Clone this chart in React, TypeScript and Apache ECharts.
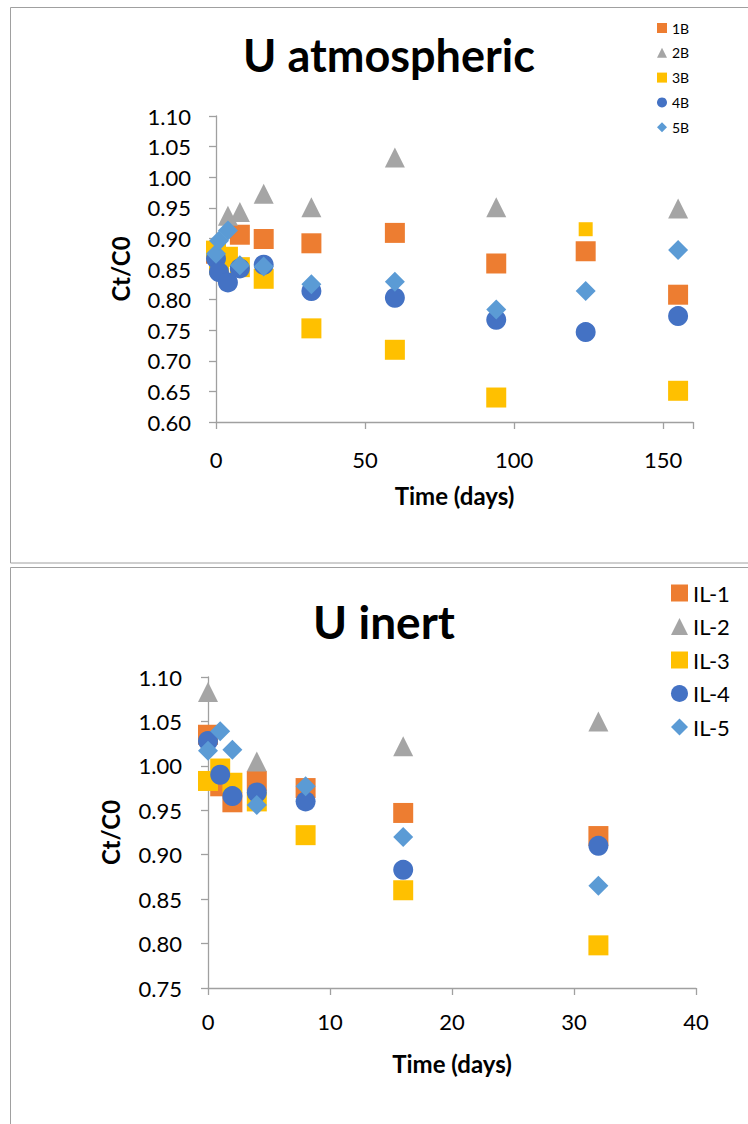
import React, { useEffect, useRef } from "react";
import * as echarts from "echarts";

// ---- U atmospheric: sampling times (days) and Ct/C0 per sample ----
const atmDays = [0, 1, 4, 8, 16, 32, 60, 94, 124, 155];
const atm1B = [0.875, 0.86, null, 0.906, 0.899, 0.892, 0.909, 0.859, 0.879, 0.808];
const atm2B = [null, null, 0.937, 0.943, 0.973, 0.951, 1.032, 0.951, null, 0.949];
const atm3B = [0.88, 0.857, 0.87, 0.853, 0.834, 0.753, 0.718, 0.64, 0.915, 0.651];
const atm4B = [0.867, 0.845, 0.828, 0.851, 0.857, 0.814, 0.803, 0.767, 0.747, 0.773];
const atm5B = [0.875, 0.896, 0.913, 0.856, 0.854, 0.825, 0.829, 0.784, 0.814, 0.881];

// ---- U inert ----
const inertDays = [0, 1, 2, 4, 8, 16, 32];
const inertIL1 = [1.035, 0.977, 0.959, 0.983, 0.975, 0.947, 0.921];
const inertIL2 = [1.083, null, null, 1.005, null, 1.022, 1.05];
const inertIL3 = [0.983, 0.997, 0.981, 0.96, 0.922, 0.86, 0.798];
const inertIL4 = [1.028, 0.99, 0.966, 0.97, 0.96, 0.883, 0.91];
const inertIL5 = [1.017, 1.039, 1.018, 0.956, 0.977, 0.92, 0.865];

const atmNames = ["1B", "2B", "3B", "4B", "5B"];
const inertNames = ["IL-1", "IL-2", "IL-3", "IL-4", "IL-5"];

const atmXTicks = { min: 0, max: 160, interval: 50 };
const atmYTicks = { min: 0.6, max: 1.1, interval: 0.05 };
const inertXTicks = { min: 0, max: 40, interval: 10 };
const inertYTicks = { min: 0.75, max: 1.1, interval: 0.05 };

const COLORS = ["#ED7D31", "#A5A5A5", "#FFC000", "#4472C4", "#5B9BD5"];
const SYMBOLS = ["rect", "triangle", "rect", "circle", "diamond"];
const MARKER = 20;
// the 3B reading at day 124 is plotted with a smaller marker
const SMALL_MARKER_3B_DAY = 124;

const FONT = "Lato";
const AXIS_GRAY = "#A0A0A0";

function points(days: number[], vals: (number | null)[], smallDay?: number) {
  const out: any[] = [];
  days.forEach((d, i) => {
    const v = vals[i];
    if (v == null) return;
    if (smallDay !== undefined && d === smallDay) {
      out.push({ value: [d, v], symbolSize: 14 });
    } else {
      out.push([d, v]);
    }
  });
  return out;
}

function xAxisOf(gridIndex: number, ticks: any, step: number, margin: number, nameGap: number) {
  return {
    gridIndex,
    type: "value",
    min: ticks.min,
    max: ticks.max,
    interval: ticks.interval,
    name: "Time (days)",
    nameLocation: "middle",
    nameGap,
    nameTextStyle: { fontFamily: FONT, fontSize: 24, fontWeight: "bold", color: "#000" },
    axisLine: { onZero: false, lineStyle: { color: AXIS_GRAY, width: 1.3 } },
    axisTick: { show: true, length: 7, lineStyle: { color: AXIS_GRAY, width: 1.3 } },
    axisLabel: {
      fontFamily: FONT,
      fontSize: 22,
      color: "#000",
      margin,
      formatter: (v: number) => (Math.abs(v % step) < 1e-9 ? String(v) : ""),
    },
    splitLine: { show: false },
  };
}

function yAxisOf(gridIndex: number, ticks: any, margin: number, nameGap: number) {
  return {
    gridIndex,
    type: "value",
    min: ticks.min,
    max: ticks.max,
    interval: ticks.interval,
    name: "Ct/C0",
    nameLocation: "middle",
    nameGap,
    nameTextStyle: { fontFamily: FONT, fontSize: 24, fontWeight: "bold", color: "#000" },
    axisLine: { show: true, onZero: false, lineStyle: { color: AXIS_GRAY, width: 1.3 } },
    axisTick: { show: true, length: 7, lineStyle: { color: AXIS_GRAY, width: 1.3 } },
    axisLabel: {
      fontFamily: FONT,
      fontSize: 22,
      color: "#000",
      margin,
      formatter: (v: number) => v.toFixed(2),
    },
    splitLine: { show: false },
  };
}

export default function App() {
  const ref = useRef<HTMLDivElement>(null);

  useEffect(() => {
    if (!ref.current) return;
    const chart = echarts.init(ref.current, undefined, { renderer: "svg" });

    const atmSeries = [atm1B, atm2B, atm3B, atm4B, atm5B].map((vals, i) => ({
      name: atmNames[i],
      type: "scatter",
      xAxisIndex: 0,
      yAxisIndex: 0,
      symbol: SYMBOLS[i],
      symbolSize: MARKER,
      itemStyle: { color: COLORS[i], opacity: 1 },
      data: points(atmDays, vals, i === 2 ? SMALL_MARKER_3B_DAY : undefined),
    }));

    const inertSeries = [inertIL1, inertIL2, inertIL3, inertIL4, inertIL5].map((vals, i) => ({
      name: inertNames[i],
      type: "scatter",
      xAxisIndex: 1,
      yAxisIndex: 1,
      symbol: SYMBOLS[i],
      symbolSize: MARKER,
      itemStyle: { color: COLORS[i], opacity: 1 },
      data: points(inertDays, vals),
    }));

    chart.setOption({
      animation: false,
      backgroundColor: "#fff",
      textStyle: { fontFamily: FONT },
      graphic: [
        {
          type: "rect",
          z: -10,
          shape: { x: 10.5, y: 7.5, width: 800, height: 555.5 },
          style: { fill: "none", stroke: AXIS_GRAY, lineWidth: 1 },
        },
        {
          type: "rect",
          z: -10,
          shape: { x: 10.5, y: 567.5, width: 800, height: 600 },
          style: { fill: "none", stroke: AXIS_GRAY, lineWidth: 1 },
        },
      ],
      title: [
        {
          text: "U atmospheric",
          left: 384,
          top: 27,
          textAlign: "center",
          textStyle: { fontFamily: FONT, fontSize: 45, fontWeight: "bold", color: "#000" },
        },
        {
          text: "U inert",
          left: 379,
          top: 593,
          textAlign: "center",
          textStyle: { fontFamily: FONT, fontSize: 46, fontWeight: "bold", color: "#000" },
        },
      ],
      legend: [
        {
          data: atmNames,
          orient: "vertical",
          left: 657,
          top: 21,
          padding: 0,
          itemWidth: 10,
          itemHeight: 10,
          itemGap: 10.8,
          selectedMode: false,
          textStyle: { fontFamily: FONT, fontSize: 14, lineHeight: 14, color: "#000" },
        },
        {
          data: inertNames,
          orient: "vertical",
          left: 671,
          top: 582,
          padding: 0,
          itemWidth: 17,
          itemHeight: 17,
          itemGap: 11.5,
          selectedMode: false,
          textStyle: { fontFamily: FONT, fontSize: 22, lineHeight: 22, color: "#000" },
        },
      ],
      grid: [
        { left: 216, top: 116, width: 477, height: 306, containLabel: false },
        { left: 208, top: 677, width: 488, height: 311, containLabel: false },
      ],
      xAxis: [
        xAxisOf(0, atmXTicks, 50, 26, 61),
        xAxisOf(1, inertXTicks, 10, 22, 63),
      ],
      yAxis: [yAxisOf(0, atmYTicks, 25, 84), yAxisOf(1, inertYTicks, 26, 86)],
      series: [...atmSeries, ...inertSeries],
    });

    return () => chart.dispose();
  }, []);

  return (
    <div
      ref={ref}
      style={{ position: "fixed", left: 0, top: 0, width: 748, height: 1124, background: "#fff" }}
    />
  );
}
